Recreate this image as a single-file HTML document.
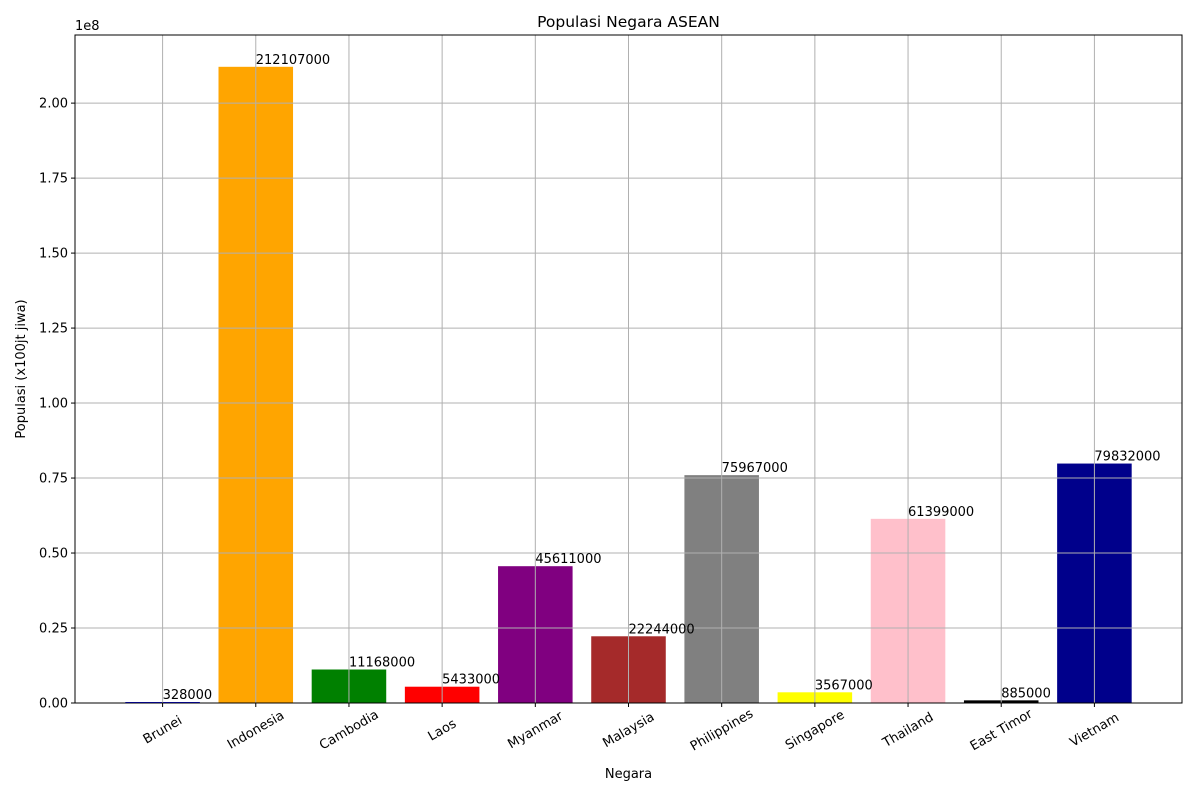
<!DOCTYPE html>
<html><head><meta charset="utf-8"><style>body{margin:0;background:#fff}svg{display:block;font-family:"DejaVu Sans","Liberation Sans",sans-serif}</style></head>
<body>
<svg id="chart" width="1200" height="796"></svg>
<script>
const categories=["Brunei","Indonesia","Cambodia","Laos","Myanmar","Malaysia","Philippines","Singapore","Thailand","East Timor","Vietnam"];
const populations=[328000,212107000,11168000,5433000,45611000,22244000,75967000,3567000,61399000,885000,79832000];
const barColors=["blue","orange","green","red","purple","brown","gray","yellow","pink","black","darkblue"];
const yTicks=[0,0.25e8,0.5e8,0.75e8,1e8,1.25e8,1.5e8,1.75e8,2e8];
const yTickLabels=["0.00","0.25","0.50","0.75","1.00","1.25","1.50","1.75","2.00"];

const L=75,R=1182,T=35,B=703;
const NS="http://www.w3.org/2000/svg";
const svg=document.getElementById('chart');
const maxV=Math.max(...populations)*1.05;
const n=categories.length;
const span=(n-1+0.8), marg=span*0.05;
const x0=-0.4-marg, x1=n-1+0.4+marg;
const sx=v=>L+(v-x0)/(x1-x0)*(R-L);
const sy=v=>B-v/maxV*(B-T);
function el(tag,attrs,parent){const e=document.createElementNS(NS,tag);for(const k in attrs)e.setAttribute(k,attrs[k]);(parent||svg).appendChild(e);return e;}
function txt(s,attrs){const e=el('text',attrs);e.textContent=s;return e;}

categories.forEach((c,i)=>{
  const v=populations[i];
  const b=el('rect',{x:sx(i-0.4),y:sy(v),width:sx(i+0.4)-sx(i-0.4),height:B-sy(v),fill:barColors[i]});
  
  
});
yTicks.forEach((t)=>{
  const g=el('line',{x1:L,x2:R,y1:sy(t),y2:sy(t),stroke:'#b0b0b0','stroke-width':1});
  
  
});
categories.forEach((c,i)=>{
  const g=el('line',{x1:sx(i),x2:sx(i),y1:T,y2:B,stroke:'#b0b0b0','stroke-width':1});
  
  
});
categories.forEach((c,i)=>{
  const t=txt(String(populations[i]),{x:sx(i),y:sy(populations[i])-3,'font-size':13,fill:'#000'});
  
  
});
const f=el('rect',{x:L,y:T,width:R-L,height:B-T,fill:'none',stroke:'#000','stroke-width':1});


yTicks.forEach((t,i)=>{
  el('line',{x1:L-4,x2:L,y1:sy(t),y2:sy(t),stroke:'#000'});
  const l=txt(yTickLabels[i],{x:L-7,y:sy(t)+4.5,'font-size':13,'text-anchor':'end'});
  
  
});
categories.forEach((c,i)=>{
  el('line',{x1:sx(i),x2:sx(i),y1:B,y2:B+4,stroke:'#000'});
  const l=txt(c,{x:sx(i),y:B+31,'font-size':13,'text-anchor':'middle',transform:`rotate(-30 ${sx(i)} ${B+27})`});
  
  
});
const m=txt('1e8',{x:L,y:T-5,'font-size':13});


const ti=txt('Populasi Negara ASEAN',{x:(L+R)/2,y:T-8,'font-size':15.5,'text-anchor':'middle'});


const xt=txt('Negara',{x:(L+R)/2,y:778,'font-size':13,'text-anchor':'middle'});


const yt=txt('Populasi (x100jt jiwa)',{x:25,y:(T+B)/2,'font-size':13,'text-anchor':'middle',transform:`rotate(-90 25 ${(T+B)/2})`});


</script>
</body></html>
